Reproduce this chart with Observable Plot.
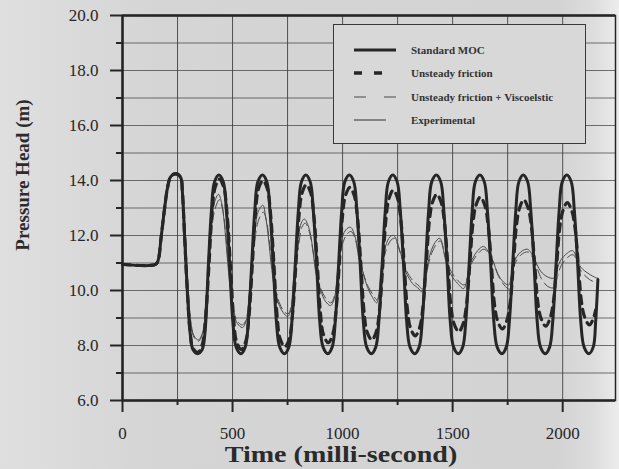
<!DOCTYPE html>
<html><head><meta charset="utf-8">
<script src="https://cdn.jsdelivr.net/npm/d3@7"></script>
<script src="https://cdn.jsdelivr.net/npm/@observablehq/plot@0.6"></script>
<style>
html,body{margin:0;padding:0;}
body{width:619px;height:469px;overflow:hidden;background:linear-gradient(to right,#dfdfdf 0%,#d5d5d5 25%,#d3d3d3 90%,#dddddd 96%,#ededed 100%);font-family:"Liberation Serif","Times New Roman",Times,serif;color:#2b2b2b;}
#wrap{position:relative;width:619px;height:469px;}
#chart{position:absolute;left:0;top:0;}
#chart svg text{font-family:"Liberation Serif","Times New Roman",Times,serif;}
#legend{position:absolute;left:333px;top:24px;width:251px;height:118px;border:1.5px solid #3a3a3a;background:#d8d8d8;}
.row{position:absolute;left:0;width:250px;height:16px;}
.row svg{position:absolute;left:0;top:0;}
.row span{position:absolute;left:77px;top:0;line-height:16px;font-size:11px;font-weight:bold;white-space:nowrap;color:#333;}
.axlab{position:absolute;font-weight:bold;white-space:nowrap;color:#2b2b2b;}
</style>
</head><body>
<div id="wrap">
  <div id="chart"></div>
  <div id="legend"></div>
  <div class="axlab" id="ylab" style="left:23px;top:175px;font-size:19px;transform:translate(-50%,-50%) rotate(-90deg);">Pressure Head (m)</div>
  <div class="axlab" id="xlab" style="left:341px;top:455px;font-size:23px;transform:translate(-50%,-50%) scaleX(1.22);">Time (milli-second)</div>
</div>
<script>
// ---- tick values ----
const xTicks = [0, 500, 1000, 1500, 2000];
const xMinor = [250, 750, 1250, 1750];
const xGrid = [250, 500, 750, 1000, 1250, 1500, 1750, 2000];
const yTicks = [6, 8, 10, 12, 14, 16, 18, 20];
const yMinor = [7, 9, 11, 13, 15, 17, 19];
const yGrid = [7, 8, 9, 10, 11, 12, 13, 14, 15, 16, 17, 18, 19];

// ---- series names ----
const seriesNames = ["Standard MOC", "Unsteady friction", "Unsteady friction + Viscoelstic", "Experimental"];

// ---- Standard MOC [time ms, head m] ----
const mocPts = [[0,10.95],[150,10.95],[162,11.1],[175,11.9],[190,12.9],[205,13.75],[220,14.15],[245,14.25],[265,14.1],
[272,13.6],[282,12.0],[295,9.9],[308,8.4],[320,7.85],[341,7.7],[362,7.85],[375,8.5],[390,10.9],[404,12.9],[418,13.95],
[438,14.2],[458,13.95],[472,12.9],[487,10.95],[501,8.9],[516,7.95],[538,7.7],[558,7.95],[572,8.9],[587,10.95],[601,12.9],[615,13.95],
[636,14.2],[656,13.95],[670,12.9],[685,10.95],[699,8.9],[714,7.95],[736,7.7],[756,7.95],[770,8.9],[785,10.95],[799,12.9],[813,13.95],
[833,14.2],[853,13.95],[867,12.9],[882,10.95],[896,8.9],[911,7.95],[933,7.7],[953,7.95],[967,8.9],[982,10.95],[996,12.9],[1010,13.95],
[1031,14.2],[1051,13.95],[1065,12.9],[1080,10.95],[1094,8.9],[1109,7.95],[1131,7.7],[1151,7.95],[1165,8.9],[1180,10.95],[1194,12.9],[1208,13.95],
[1228,14.2],[1248,13.95],[1262,12.9],[1277,10.95],[1291,8.9],[1306,7.95],[1328,7.7],[1348,7.95],[1362,8.9],[1377,10.95],[1391,12.9],[1405,13.95],
[1426,14.2],[1446,13.95],[1460,12.9],[1475,10.95],[1489,8.9],[1504,7.95],[1526,7.7],[1546,7.95],[1560,8.9],[1575,10.95],[1589,12.9],[1603,13.95],
[1624,14.2],[1644,13.95],[1658,12.9],[1673,10.95],[1687,8.9],[1702,7.95],[1724,7.7],[1744,7.95],[1758,8.9],[1773,10.95],[1787,12.9],[1801,13.95],
[1821,14.2],[1841,13.95],[1855,12.9],[1870,10.95],[1884,8.9],[1899,7.95],[1921,7.7],[1941,7.95],[1955,8.9],[1970,10.95],[1984,12.9],[1998,13.95],
[2019,14.2],[2039,13.95],[2053,12.9],[2068,10.95],[2082,8.9],[2097,7.95],[2119,7.7],[2139,7.95],[2150,8.9],[2160,10.4]];

// ---- Unsteady friction ----
const ufPts = [[0,10.95],[150,10.95],[162,11.1],[175,11.9],[190,12.9],[205,13.75],[220,14.15],[245,14.25],[265,14.1],
[272,13.6],[282,12.0],[295,9.9],[308,8.45],[320,7.9],[343,7.75],
[363,8.05],[378,9.05],[393,10.95],[407,12.85],[421,13.75],[440,14.05],
[460,13.75],[475,12.8],[490,10.95],[504,9.1],[518,8.15],[540,7.85],
[560,8.15],[575,9.1],[590,10.95],[604,12.8],[618,13.7],[638,14.0],
[658,13.7],[673,12.77],[688,10.95],[702,9.13],[716,8.25],[738,7.95],
[758,8.25],[773,9.18],[788,10.95],[802,12.72],[816,13.55],[835,13.85],
[855,13.55],[870,12.68],[885,10.95],[899,9.22],[913,8.4],[935,8.1],
[955,8.4],[970,9.25],[985,10.95],[999,12.65],[1013,13.45],[1033,13.75],
[1053,13.45],[1068,12.62],[1083,10.95],[1097,9.28],[1111,8.5],[1133,8.2],
[1153,8.5],[1168,9.31],[1183,10.95],[1197,12.59],[1211,13.35],[1230,13.65],
[1250,13.35],[1265,12.54],[1280,10.95],[1294,9.36],[1308,8.65],[1330,8.35],
[1350,8.65],[1365,9.4],[1380,10.95],[1394,12.5],[1408,13.2],[1428,13.5],
[1448,13.2],[1463,12.45],[1478,10.95],[1492,9.45],[1506,8.8],[1528,8.5],
[1548,8.8],[1563,9.48],[1578,10.95],[1592,12.42],[1606,13.1],[1626,13.4],
[1646,13.1],[1661,12.39],[1676,10.95],[1690,9.51],[1704,8.9],[1726,8.6],
[1746,8.9],[1761,9.54],[1776,10.95],[1790,12.36],[1804,13.0],[1823,13.3],
[1843,13.0],[1858,12.33],[1873,10.95],[1887,9.57],[1901,9.0],[1923,8.7],
[1943,9.0],[1958,9.6],[1973,10.95],[1987,12.3],[2001,12.9],[2021,13.2],
[2041,12.9],[2056,12.28],[2071,10.95],[2085,9.62],[2099,9.05],[2121,8.75],
[2138,8.95],[2150,9.3]];

// ---- Unsteady friction + Viscoelastic ----
const vePts = [[0,10.95],[150,10.95],[165,11.2],[180,12.4],[195,13.4],[210,14.0],[235,14.2],[260,14.1],[275,13.4],[285,12.0],[297,10.1],[310,8.8],[325,8.3],[345,8.15],
[365,8.45],[378,9.5],[392,10.9],[405,12.2],[420,12.95],[440,13.3],
[455,12.95],[466,12.3],[478,11.2],[492,10.0],[507,9.2],[525,8.85],[545,8.75],
[562,8.95],[575,9.8],[588,10.9],[602,11.9],[620,12.6],[640,12.85],
[655,12.5],[667,11.8],[680,10.9],[695,10.1],[713,9.55],[733,9.25],[752,9.15],
[766,9.4],[777,10.2],[790,11.1],[803,11.8],[815,12.3],[830,12.45],
[850,12.1],[866,11.4],[880,10.7],[902,10.05],[925,9.7],[947,9.55],
[963,9.8],[978,10.6],[993,11.5],[1016,12.0],[1038,12.15],
[1060,11.8],[1075,11.15],[1093,10.65],[1116,10.15],[1138,9.85],[1157,9.65],
[1167,9.95],[1177,10.7],[1197,11.45],[1217,11.8],[1234,11.9],
[1265,11.3],[1288,10.75],[1320,10.35],[1343,10.2],[1363,10.05],
[1376,10.35],[1390,10.95],[1407,11.4],[1427,11.7],[1444,11.8],
[1470,11.15],[1493,10.7],[1525,10.35],[1552,10.2],
[1566,10.45],[1584,10.95],[1616,11.35],[1643,11.5],
[1684,11.05],[1707,10.55],[1734,10.2],[1757,10.05],
[1768,10.4],[1779,10.9],[1811,11.3],[1843,11.4],
[1870,11.1],[1902,10.45],[1932,10.15],[1960,10.1],
[1976,10.5],[1993,10.9],[2022,11.2],[2047,11.3],
[2084,10.7],[2122,10.4],[2150,10.3],[2160,10.3]];

// ---- Experimental ----
const expPts = [[0,10.95],[150,10.95],[165,11.2],[180,12.4],[195,13.4],[210,14.0],[235,14.2],[260,14.1],[275,13.4],[285,12.2],[297,10.3],[310,8.9],[325,8.35],[345,8.2],
[365,8.5],[378,9.6],[392,11.0],[405,12.4],[418,13.2],[436,13.5],
[450,13.2],[462,12.5],[475,11.3],[490,10.0],[505,9.2],[522,8.8],[545,8.65],
[562,8.9],[575,9.8],[588,11.0],[602,12.2],[618,12.9],[638,13.1],
[650,12.7],[662,12.0],[675,11.0],[690,10.1],[710,9.5],[730,9.2],[750,9.05],
[765,9.3],[775,10.2],[788,11.2],[800,12.0],[812,12.45],[826,12.6],
[846,12.3],[864,11.55],[877,10.7],[900,10.0],[923,9.6],[945,9.45],
[962,9.7],[977,10.7],[991,11.7],[1014,12.2],[1036,12.3],
[1059,11.9],[1073,11.2],[1091,10.7],[1114,10.1],[1136,9.75],[1155,9.55],
[1165,9.9],[1175,10.8],[1195,11.6],[1215,11.95],[1232,12.0],
[1264,11.35],[1286,10.7],[1318,10.25],[1341,10.1],[1362,9.95],
[1375,10.3],[1388,11.0],[1405,11.5],[1425,11.8],[1442,11.9],
[1468,11.1],[1491,10.6],[1523,10.25],[1550,10.07],
[1565,10.4],[1582,11.0],[1614,11.45],[1641,11.6],
[1682,11.1],[1705,10.6],[1732,10.3],[1755,10.2],
[1766,10.5],[1777,11.0],[1809,11.4],[1841,11.5],
[1868,11.2],[1900,10.7],[1930,10.5],[1959,10.45],
[1975,10.8],[1991,11.1],[2020,11.35],[2045,11.45],
[2082,10.85],[2120,10.6],[2150,10.47],[2160,10.45]];

const ink = "#262626";
const toObj = pts => pts.map(([t, v]) => ({t, v}));

const chart = Plot.plot({
  width: 619, height: 469,
  marginLeft: 122, marginRight: 4, marginTop: 15, marginBottom: 69,
  x: {domain: [0, 2240]},
  y: {domain: [6, 20]},
  style: {background: "transparent", fontFamily: "'Liberation Serif', 'Times New Roman', Times, serif", fontSize: "17px", color: ink, overflow: "visible"},
  marks: [
    Plot.gridX(xGrid, {stroke: "#3a3a3a", strokeOpacity: 0.85, strokeWidth: 1}),
    Plot.gridY(yGrid, {stroke: "#3a3a3a", strokeOpacity: 0.7, strokeWidth: 1}),
    Plot.frame({stroke: ink, strokeWidth: 1.5}),
    Plot.ruleY([20], {stroke: ink, strokeWidth: 2.5}),
    Plot.ruleY([6], {stroke: ink, strokeWidth: 2.5}),
    Plot.ruleX([0], {stroke: ink, strokeWidth: 2.5}),
    Plot.axisX(xTicks, {tickSize: 12, tickPadding: 14, tickFormat: d => String(d), label: null, stroke: ink, strokeWidth: 2, fill: ink}),
    Plot.axisX(xMinor, {tickSize: 5, tickFormat: () => "", label: null, stroke: ink, strokeWidth: 2}),
    Plot.axisY(yTicks, {tickSize: 12, tickPadding: 12, tickFormat: d => d.toFixed(1), label: null, stroke: ink, strokeWidth: 2, fill: ink}),
    Plot.axisY(yMinor, {tickSize: 6, tickFormat: () => "", label: null, stroke: ink, strokeWidth: 2}),
    Plot.line(toObj(expPts), {x: "t", y: "v", curve: "catmull-rom", stroke: "#4a4a4a", strokeWidth: 1}),
    Plot.line(toObj(vePts), {x: "t", y: "v", curve: "catmull-rom", stroke: "#4a4a4a", strokeWidth: 1, strokeDasharray: "10,5"}),
    Plot.line(toObj(ufPts), {x: "t", y: "v", curve: "catmull-rom", stroke: ink, strokeWidth: 3.2, strokeDasharray: "8,6"}),
    Plot.line(toObj(mocPts), {x: "t", y: "v", curve: "catmull-rom", stroke: ink, strokeWidth: 3})
  ]
});
document.getElementById("chart").appendChild(chart);

// ---- legend ----
const legendStyles = [
  {w: 3, dash: null, x2: 62, color: ink},
  {w: 3.5, dash: "8,12", x2: 48, color: ink},
  {w: 1.2, dash: "12,18", x2: 64, color: "#4a4a4a"},
  {w: 1.2, dash: null, x2: 52, color: "#4a4a4a"}
];
const rowTops = [17, 40, 64, 87];
const legend = document.getElementById("legend");
seriesNames.forEach((name, i) => {
  const s = legendStyles[i];
  const row = document.createElement("div");
  row.className = "row";
  row.style.top = rowTops[i] + "px";
  row.innerHTML = `<svg width="76" height="16"><line x1="20" x2="${s.x2}" y1="8" y2="8" stroke="${s.color}" stroke-width="${s.w}" ${s.dash ? `stroke-dasharray="${s.dash}"` : ""}/></svg><span>${name}</span>`;
  legend.appendChild(row);
});
</script>
</body></html>
